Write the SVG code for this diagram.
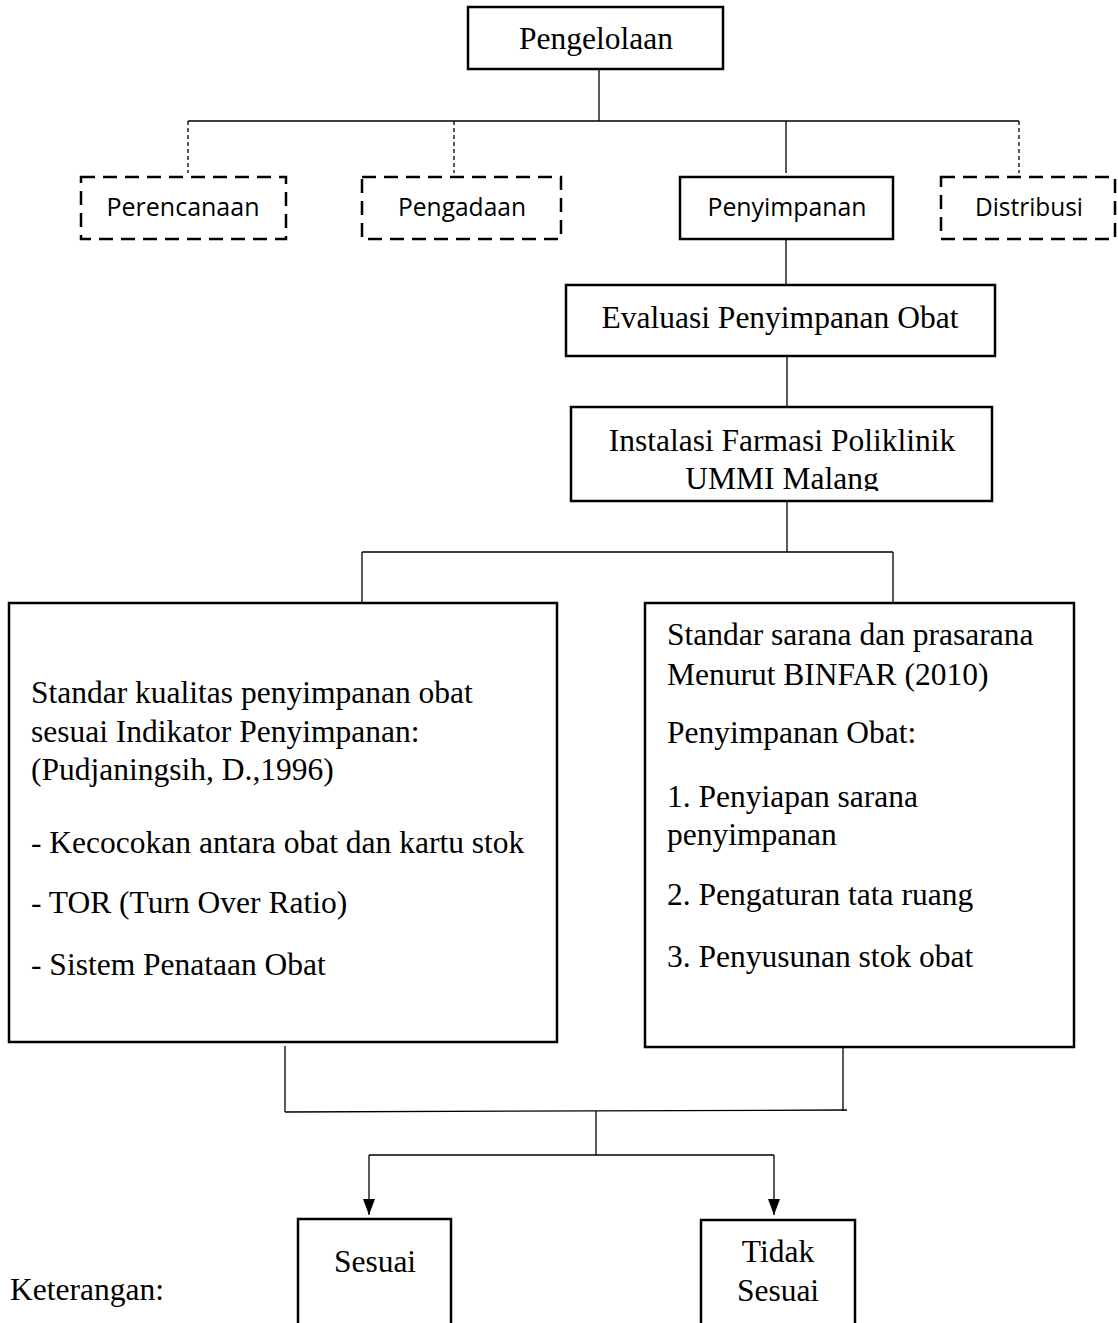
<svg xmlns="http://www.w3.org/2000/svg" width="1118" height="1323" viewBox="0 0 1118 1323">
<style>
.box{fill:#fff;stroke:#000;stroke-width:2.5}
.dbox{fill:#fff;stroke:#000;stroke-width:2.5;stroke-dasharray:14 8}
.ln{fill:none;stroke:#000;stroke-width:1.3}
.dln{fill:none;stroke:#000;stroke-width:1.3;stroke-dasharray:4 3}
.serif{font-family:"Liberation Serif","Times New Roman",serif;font-size:31.5px;fill:#000}
.sans{font-family:"Open Sans","Noto Sans",sans-serif;font-size:25px;fill:#000}
.c{text-anchor:middle}
</style>
<defs>
<marker id="arr" viewBox="0 0 16 12" refX="16" refY="6" markerWidth="16" markerHeight="12" markerUnits="userSpaceOnUse" orient="auto">
<path d="M0,0 L16,6 L0,12 Z" fill="#000"/>
</marker>
<clipPath id="clipInst"><rect x="571" y="407" width="421" height="84"/></clipPath>
</defs>
<rect width="1118" height="1323" fill="#fff"/>

<g id="connectors">
<line class="ln" x1="599" y1="69" x2="599" y2="121"/>
<line class="ln" x1="188" y1="121" x2="1019" y2="121"/>
<line class="dln" x1="188" y1="121" x2="188" y2="173"/>
<line class="dln" x1="454" y1="121" x2="454" y2="173"/>
<line class="dln" x1="1019" y1="121" x2="1019" y2="173"/>
<line class="ln" x1="786" y1="121" x2="786" y2="173"/>
<line class="ln" x1="786" y1="239" x2="786" y2="285"/>
<line class="ln" x1="787" y1="356" x2="787" y2="407"/>
<line class="ln" x1="787" y1="501" x2="787" y2="552"/>
<line class="ln" x1="362" y1="552" x2="893" y2="552"/>
<line class="ln" x1="362" y1="552" x2="362" y2="602"/>
<line class="ln" x1="893" y1="552" x2="893" y2="603"/>
<line class="ln" x1="285" y1="1046" x2="285" y2="1112"/>
<line class="ln" x1="843" y1="1045" x2="843" y2="1111"/>
<line class="ln" x1="285" y1="1112" x2="847" y2="1110"/>
<line class="ln" x1="596" y1="1111" x2="596" y2="1155"/>
<line class="ln" x1="369" y1="1155" x2="774" y2="1155"/>
<line class="ln" x1="369" y1="1155" x2="369" y2="1215" marker-end="url(#arr)"/>
<line class="ln" x1="774" y1="1155" x2="774" y2="1215" marker-end="url(#arr)"/>
</g>

<g id="pengelolaan">
<rect class="box" x="468" y="7" width="255" height="62"/>
<text class="serif c" x="596" y="49">Pengelolaan</text>
</g>

<g id="perencanaan">
<rect class="dbox" x="81" y="177" width="205" height="62"/>
<text class="sans c" x="183" y="216" textLength="153" lengthAdjust="spacingAndGlyphs">Perencanaan</text>
</g>

<g id="pengadaan">
<rect class="dbox" x="362" y="177" width="199" height="62"/>
<text class="sans c" x="462" y="216" textLength="128" lengthAdjust="spacingAndGlyphs">Pengadaan</text>
</g>

<g id="penyimpanan">
<rect class="box" x="680" y="177" width="213" height="62"/>
<text class="sans c" x="787" y="216" textLength="159" lengthAdjust="spacingAndGlyphs">Penyimpanan</text>
</g>

<g id="distribusi">
<rect class="dbox" x="941" y="177" width="174" height="62"/>
<text class="sans c" x="1029" y="216" textLength="108" lengthAdjust="spacingAndGlyphs">Distribusi</text>
</g>

<g id="evaluasi">
<rect class="box" x="566" y="285" width="429" height="71"/>
<text class="serif c" x="780" y="328">Evaluasi Penyimpanan Obat</text>
</g>

<g id="instalasi">
<rect class="box" x="571" y="407" width="421" height="94"/>
<text class="serif c" x="782" y="451">Instalasi Farmasi Poliklinik</text>
<text class="serif c" x="782" y="489" clip-path="url(#clipInst)">UMMI Malang</text>
</g>

<g id="standar-kualitas">
<rect class="box" x="9" y="603" width="548" height="439"/>
<text class="serif" x="31" y="703">Standar kualitas penyimpanan obat</text>
<text class="serif" x="31" y="742">sesuai Indikator Penyimpanan:</text>
<text class="serif" x="31" y="780">(Pudjaningsih, D.,1996)</text>
<text class="serif" x="31" y="853">- Kecocokan antara obat dan kartu stok</text>
<text class="serif" x="31" y="913">- TOR (Turn Over Ratio)</text>
<text class="serif" x="31" y="975">- Sistem Penataan Obat</text>
</g>

<g id="standar-sarana">
<rect class="box" x="645" y="603" width="429" height="444"/>
<text class="serif" x="667" y="645">Standar sarana dan prasarana</text>
<text class="serif" x="667" y="685">Menurut BINFAR (2010)</text>
<text class="serif" x="667" y="743">Penyimpanan Obat:</text>
<text class="serif" x="667" y="807">1. Penyiapan sarana</text>
<text class="serif" x="667" y="845">penyimpanan</text>
<text class="serif" x="667" y="905">2. Pengaturan tata ruang</text>
<text class="serif" x="667" y="967">3. Penyusunan stok obat</text>
</g>

<g id="sesuai">
<rect class="box" x="298" y="1219" width="153" height="120"/>
<text class="serif c" x="375" y="1272">Sesuai</text>
</g>

<g id="tidak-sesuai">
<rect class="box" x="701" y="1220" width="154" height="120"/>
<text class="serif c" x="778" y="1262">Tidak</text>
<text class="serif c" x="778" y="1301">Sesuai</text>
</g>

<g id="keterangan">
<text class="serif" x="10" y="1300">Keterangan:</text>
</g>
</svg>
